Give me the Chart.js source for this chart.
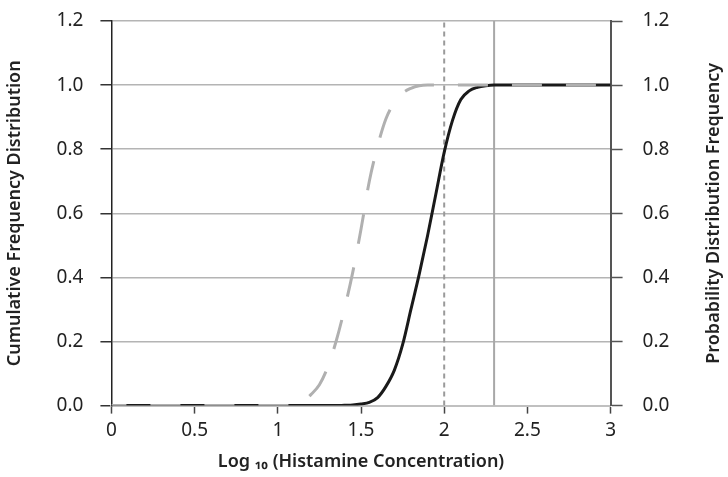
<!DOCTYPE html>
<html>
<head>
<meta charset="utf-8">
<script src="https://cdn.jsdelivr.net/npm/chart.js@4/dist/chart.umd.min.js"></script>
<style>
  body { margin: 0; background: #fff; }
  #wrap { position: relative; width: 728px; height: 477px; }
</style>
</head>
<body>
<div id="wrap"><canvas id="chart"></canvas></div>
<script>
// log10 histamine concentration
const xValues = [0, 0.5, 1.0, 1.1, 1.15, 1.2, 1.25, 1.3, 1.35, 1.4, 1.45, 1.5, 1.55, 1.6, 1.65, 1.7, 1.75, 1.8, 1.85, 1.9, 1.95, 2.0, 2.05, 2.1, 2.15, 2.2, 2.25, 2.3, 2.5, 3.0];
// cumulative frequency (black solid)
const cumulative = [0, 0, 0, 0, 0, 0, 0, 0, 0, 0.001, 0.002, 0.005, 0.01, 0.025, 0.06, 0.11, 0.19, 0.3, 0.41, 0.53, 0.66, 0.79, 0.89, 0.955, 0.982, 0.993, 0.998, 1.0, 1.0, 1.0];
// probability distribution (grey dashed)
const probability = [0, 0, 0, 0, 0.012, 0.035, 0.065, 0.12, 0.2, 0.3, 0.415, 0.55, 0.7, 0.81, 0.895, 0.945, 0.975, 0.99, 0.998, 1.0, 1.0, 1.0, 1.0, 1.0, 1.0, 1.0, 1.0, 1.0, 1.0, 1.0];
// reference lines
const dashedAt = 2.0;
const solidAt = 2.3;
const yTicks = [0, 0.2, 0.4, 0.6, 0.8, 1.0, 1.2];

const font = "'Noto Sans', 'Open Sans', sans-serif";
const titleFont = { family: font, size: 18, weight: '600' };
const rightTitle = 'Probability Distribution Frequency';
const toPts = ys => xValues.map((x, i) => ({ x: x, y: ys[i] }));
const vLine = x => [{ x: x, y: 0 }, { x: x, y: 1.2 }];
// ticks.padding also pads the top of a vertical scale, undo that
const trimPad = s => { s.paddingTop = 21; s.paddingBottom = 10; };

// right title reads bottom-to-top like the left one; chart.js turns it the other way
const rightTitlePlugin = {
  id: 'rightTitle',
  afterDraw(chart) {
    const s = chart.scales.y2;
    const ctx = chart.ctx;
    ctx.save();
    ctx.translate(s.right - titleFont.size * 0.6, (s.top + s.bottom) / 2);
    ctx.rotate(-Math.PI / 2);
    ctx.font = `${titleFont.weight} ${titleFont.size}px ${font}`;
    ctx.fillStyle = '#222';
    ctx.textAlign = 'center';
    ctx.textBaseline = 'middle';
    ctx.fillText(rightTitle, 0, 0);
    ctx.restore();
  }
};

// chart.js paints dataset 0 last (on top)
new Chart(document.getElementById('chart'), {
  type: 'line',
  data: {
    datasets: [
      {
        data: toPts(probability),
        borderColor: '#b0b0b0',
        borderWidth: 3,
        borderDash: [30, 24],
        borderDashOffset: 15,
        pointRadius: 0,
        cubicInterpolationMode: 'monotone'
      },
      {
        data: toPts(cumulative),
        borderColor: '#1a1a1a',
        borderWidth: 3,
        pointRadius: 0,
        cubicInterpolationMode: 'monotone'
      },
      {
        data: vLine(dashedAt),
        borderColor: '#9a9a9a',
        borderWidth: 2,
        borderDash: [5, 4],
        pointRadius: 0
      },
      {
        data: vLine(solidAt),
        borderColor: '#a8a8a8',
        borderWidth: 2,
        pointRadius: 0
      }
    ]
  },
  options: {
    responsive: true,
    maintainAspectRatio: false,
    animation: false,
    layout: { padding: { top: 0, left: 4, right: 3, bottom: 4 } },
    plugins: { legend: { display: false }, tooltip: { enabled: false } },
    scales: {
      x: {
        type: 'linear',
        min: 0,
        max: 3,
        ticks: {
          stepSize: 0.5,
          color: '#222',
          font: { family: font, size: 19 },
          padding: 6,
          maxRotation: 0,
          callback: v => String(v)
        },
        grid: { drawOnChartArea: false, tickLength: 8, tickColor: '#444', tickWidth: 1.5 },
        border: { color: '#c0c0c0', width: 2 },
        title: {
          display: true,
          text: 'Log \u2081\u2080 (Histamine Concentration)',
          color: '#222',
          font: titleFont,
          padding: { top: 3, bottom: 0 }
        }
      },
      y: {
        min: 0,
        max: 1.2,
        afterBuildTicks: s => { s.ticks = yTicks.map(v => ({ value: v })); },
        afterFit: trimPad,
        ticks: {
          color: '#222',
          font: { family: font, size: 19 },
          padding: 17,
          callback: v => v.toFixed(1)
        },
        grid: { color: '#b4b4b4', lineWidth: 1.5, tickLength: 11, tickColor: '#333' },
        border: { color: '#222', width: 1.5 },
        title: {
          display: true,
          text: 'Cumulative Frequency Distribution',
          color: '#222',
          font: titleFont,
          padding: { top: 0, bottom: 14 }
        }
      },
      y2: {
        position: 'right',
        min: 0,
        max: 1.2,
        afterBuildTicks: s => { s.ticks = yTicks.map(v => ({ value: v })); },
        afterFit: trimPad,
        ticks: {
          color: '#222',
          font: { family: font, size: 19 },
          padding: 20,
          callback: v => v.toFixed(1)
        },
        grid: { drawOnChartArea: false, tickLength: 12, tickColor: '#555', tickWidth: 1.5 },
        border: { color: '#555', width: 2 },
        title: {
          display: true,
          text: rightTitle,
          color: 'rgba(0,0,0,0)',
          font: titleFont,
          padding: { top: 0, bottom: 14 }
        }
      }
    }
  },
  plugins: [rightTitlePlugin]
});
</script>
</body>
</html>
